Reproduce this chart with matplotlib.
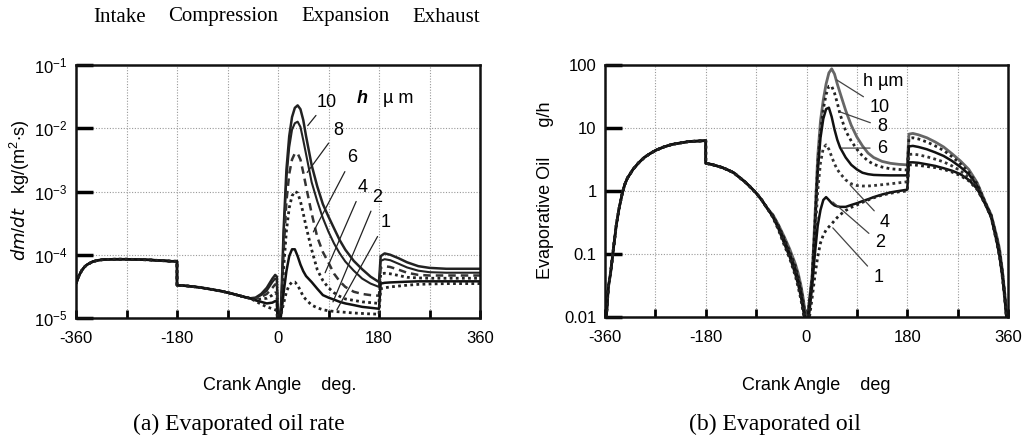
import matplotlib
matplotlib.use("Agg")
import matplotlib.pyplot as plt
from matplotlib import font_manager

# ---------------- data: (a) evaporated oil rate, kg/(m2 s) ----------------
h_values = [10, 8, 6, 4, 2, 1]

ang_a_intake = [-360, -355, -350, -345, -340, -330, -320, -310, -290, -270, -250, -230, -210, -190, -180]
rate_intake = [3.5e-5, 4.6e-5, 5.6e-5, 6.4e-5, 7.0e-5, 7.8e-5, 8.2e-5, 8.4e-5, 8.5e-5, 8.5e-5, 8.4e-5, 8.3e-5, 8.1e-5, 7.9e-5, 7.9e-5]

ang_a_comp = [-180, -160, -140, -120, -100, -80, -60, -50]
rate_comp = [3.3e-5, 3.2e-5, 3.05e-5, 2.85e-5, 2.65e-5, 2.4e-5, 2.15e-5, 2.05e-5]

ang_a_tdc = [-40, -30, -20, -10, -5, -2, 0]
rate_tdc_10 = [2.1e-5, 2.4e-5, 3.0e-5, 4.2e-5, 4.8e-5, 4.5e-5, 6e-6]
rate_tdc_8 = [2.05e-5, 2.3e-5, 2.7e-5, 3.7e-5, 4.2e-5, 4.0e-5, 6e-6]
rate_tdc_6 = [2.0e-5, 2.15e-5, 2.4e-5, 3.0e-5, 3.4e-5, 3.3e-5, 6e-6]
rate_tdc_4 = [1.95e-5, 2.0e-5, 2.05e-5, 2.3e-5, 2.5e-5, 2.4e-5, 6e-6]
rate_tdc_2 = [1.9e-5, 1.8e-5, 1.7e-5, 1.75e-5, 1.85e-5, 1.8e-5, 6e-6]
rate_tdc_1 = [1.85e-5, 1.65e-5, 1.5e-5, 1.4e-5, 1.35e-5, 1.3e-5, 6e-6]

ang_a_exp = [3, 6, 10, 15, 20, 25, 30, 35, 40, 45, 50, 60, 70, 80, 90, 100, 110, 120, 135, 150, 165, 180]
rate_exp_10 = [8e-6, 2e-5, 2.5e-4, 2.2e-3, 7.5e-3, 1.5e-2, 2.1e-2, 2.3e-2, 2.0e-2, 1.35e-2, 7.5e-3, 2.6e-3, 1.2e-3, 6.3e-4, 4.0e-4, 2.6e-4, 1.7e-4, 1.2e-4, 8.0e-5, 5.9e-5, 4.5e-5, 3.7e-5]
rate_exp_8 = [8e-6, 1.8e-5, 2.0e-4, 1.6e-3, 5.0e-3, 9.5e-3, 1.2e-2, 1.27e-2, 1.05e-2, 6.5e-3, 3.9e-3, 1.4e-3, 7.0e-4, 3.8e-4, 2.3e-4, 1.5e-4, 1.05e-4, 7.8e-5, 5.6e-5, 4.2e-5, 3.5e-5, 3.1e-5]
rate_exp_6 = [8e-6, 1.6e-5, 1.1e-4, 7.0e-4, 1.9e-3, 3.2e-3, 4.0e-3, 4.0e-3, 3.2e-3, 2.0e-3, 1.2e-3, 4.5e-4, 1.9e-4, 1.1e-4, 7.5e-5, 5.0e-5, 3.8e-5, 3.1e-5, 2.6e-5, 2.4e-5, 2.3e-5, 2.25e-5]
rate_exp_4 = [8e-6, 1.4e-5, 6.0e-5, 2.4e-4, 5.5e-4, 8.5e-4, 1.0e-3, 9.5e-4, 7.0e-4, 4.5e-4, 2.8e-4, 1.2e-4, 5.8e-5, 3.9e-5, 3.0e-5, 2.5e-5, 2.2e-5, 2.0e-5, 1.9e-5, 1.8e-5, 1.75e-5, 1.7e-5]
rate_exp_2 = [8e-6, 1.2e-5, 2.5e-5, 5.5e-5, 9.5e-5, 1.22e-4, 1.22e-4, 9.5e-5, 7.0e-5, 5.5e-5, 4.6e-5, 3.7e-5, 2.9e-5, 2.3e-5, 2.1e-5, 1.95e-5, 1.8e-5, 1.7e-5, 1.6e-5, 1.5e-5, 1.45e-5, 1.4e-5]
rate_exp_1 = [8e-6, 1.2e-5, 1.7e-5, 2.6e-5, 3.3e-5, 3.7e-5, 3.7e-5, 3.3e-5, 2.7e-5, 2.2e-5, 1.95e-5, 1.6e-5, 1.45e-5, 1.35e-5, 1.3e-5, 1.27e-5, 1.25e-5, 1.23e-5, 1.2e-5, 1.18e-5, 1.16e-5, 1.15e-5]

ang_a_exh = [183, 190, 200, 215, 230, 250, 270, 300, 330, 360]
rate_exh_10 = [9.5e-5, 1.05e-4, 1.0e-4, 8.8e-5, 7.6e-5, 6.6e-5, 6.2e-5, 6.0e-5, 6.0e-5, 6.0e-5]
rate_exh_8 = [8.0e-5, 8.5e-5, 8.2e-5, 7.2e-5, 6.3e-5, 5.6e-5, 5.3e-5, 5.2e-5, 5.2e-5, 5.2e-5]
rate_exh_6 = [6.2e-5, 6.6e-5, 6.4e-5, 5.8e-5, 5.2e-5, 4.8e-5, 4.7e-5, 4.7e-5, 4.7e-5, 4.7e-5]
rate_exh_4 = [5.0e-5, 5.1e-5, 5.0e-5, 4.7e-5, 4.4e-5, 4.3e-5, 4.25e-5, 4.25e-5, 4.25e-5, 4.25e-5]
rate_exh_2 = [3.5e-5, 3.6e-5, 3.65e-5, 3.7e-5, 3.75e-5, 3.8e-5, 3.8e-5, 3.8e-5, 3.8e-5, 3.8e-5]
rate_exh_1 = [2.9e-5, 3.0e-5, 3.1e-5, 3.2e-5, 3.3e-5, 3.4e-5, 3.45e-5, 3.5e-5, 3.5e-5, 3.5e-5]

# ---------------- data: (b) evaporated oil, g/h ----------------
ang_b_intake = [-360, -357, -354, -350, -345, -340, -335, -330, -325, -320, -310, -300, -290, -280, -270, -255, -240, -225, -210, -195, -180]
oil_intake = [0.005, 0.012, 0.03, 0.05, 0.12, 0.28, 0.52, 0.85, 1.25, 1.6, 2.2, 2.8, 3.4, 3.9, 4.4, 5.0, 5.5, 5.8, 6.1, 6.2, 6.3]

ang_b_comp = [-180, -170, -160, -150, -140, -130, -120, -110, -100, -90, -80, -70]
oil_comp = [2.75, 2.65, 2.5, 2.35, 2.15, 1.95, 1.65, 1.4, 1.15, 0.93, 0.72, 0.53]

ang_b_tdc = [-60, -50, -40, -30, -20, -15, -10, -6, -3, 0]
oil_tdc_10 = [0.42, 0.29, 0.19, 0.12, 0.07, 0.05, 0.032, 0.02, 0.013, 0.006]
oil_tdc_8 = [0.41, 0.28, 0.18, 0.11, 0.065, 0.045, 0.029, 0.018, 0.012, 0.006]
oil_tdc_6 = [0.40, 0.27, 0.17, 0.10, 0.058, 0.04, 0.026, 0.016, 0.011, 0.006]
oil_tdc_4 = [0.39, 0.26, 0.155, 0.095, 0.052, 0.036, 0.023, 0.014, 0.01, 0.005]
oil_tdc_2 = [0.385, 0.25, 0.148, 0.09, 0.048, 0.033, 0.021, 0.013, 0.009, 0.005]
oil_tdc_1 = [0.38, 0.24, 0.14, 0.085, 0.045, 0.03, 0.019, 0.012, 0.008, 0.005]

ang_b_exp = [3, 6, 10, 15, 20, 25, 30, 35, 40, 45, 50, 55, 60, 70, 80, 90, 100, 110, 120, 135, 150, 165, 180]
oil_exp_10 = [0.012, 0.022, 0.045, 0.38, 3.5, 13, 28, 50, 75, 87, 72, 50, 36, 19, 11, 7.2, 5.2, 4.0, 3.4, 2.95, 2.75, 2.65, 2.6]
oil_exp_8 = [0.011, 0.02, 0.04, 0.3, 2.6, 9, 20, 34, 46, 46, 36, 25, 16.5, 9, 6.2, 4.6, 3.6, 3.0, 2.65, 2.4, 2.25, 2.2, 2.15]
oil_exp_6 = [0.011, 0.02, 0.038, 0.25, 2.0, 7, 14, 20, 21, 15, 9.5, 6.5, 4.9, 3.4, 2.6, 2.2, 1.95, 1.85, 1.8, 1.78, 1.77, 1.77, 1.77]
oil_exp_4 = [0.009, 0.016, 0.032, 0.17, 1.0, 2.8, 4.8, 5.4, 4.6, 3.5, 2.7, 2.2, 1.9, 1.5, 1.3, 1.22, 1.2, 1.2, 1.22, 1.26, 1.3, 1.35, 1.4]
oil_exp_2 = [0.008, 0.014, 0.03, 0.1, 0.28, 0.5, 0.72, 0.8, 0.72, 0.64, 0.59, 0.57, 0.56, 0.56, 0.6, 0.64, 0.69, 0.74, 0.8, 0.88, 0.95, 1.0, 1.05]
oil_exp_1 = [0.007, 0.011, 0.02, 0.045, 0.09, 0.15, 0.2, 0.24, 0.27, 0.3, 0.34, 0.38, 0.42, 0.49, 0.55, 0.6, 0.66, 0.72, 0.78, 0.86, 0.92, 0.97, 1.0]

ang_b_exh = [183, 190, 200, 215, 230, 245, 260, 275, 290, 305, 320, 330, 340, 345, 350, 354, 357, 360]
oil_exh_10 = [8.0, 8.2, 7.8, 7.0, 6.0, 5.0, 3.9, 3.0, 2.2, 1.35, 0.65, 0.42, 0.19, 0.12, 0.055, 0.025, 0.012, 0.005]
oil_exh_8 = [6.8, 7.0, 6.7, 6.0, 5.2, 4.4, 3.5, 2.7, 2.0, 1.3, 0.64, 0.41, 0.18, 0.11, 0.052, 0.024, 0.012, 0.005]
oil_exh_6 = [5.1, 5.2, 5.0, 4.6, 4.1, 3.6, 3.0, 2.4, 1.85, 1.2, 0.62, 0.40, 0.17, 0.10, 0.05, 0.023, 0.011, 0.005]
oil_exh_4 = [3.8, 3.85, 3.75, 3.5, 3.2, 2.9, 2.5, 2.1, 1.65, 1.13, 0.61, 0.39, 0.16, 0.095, 0.046, 0.021, 0.011, 0.005]
oil_exh_2 = [2.85, 2.85, 2.8, 2.65, 2.5, 2.3, 2.1, 1.85, 1.5, 1.08, 0.6, 0.38, 0.155, 0.09, 0.043, 0.02, 0.01, 0.005]
oil_exh_1 = [2.6, 2.6, 2.55, 2.45, 2.35, 2.2, 2.0, 1.75, 1.45, 1.05, 0.6, 0.38, 0.15, 0.09, 0.042, 0.02, 0.01, 0.005]

x_ticks = [-360, -270, -180, -90, 0, 90, 180, 270, 360]
x_ticklabels = ["-360", "", "-180", "", "0", "", "180", "", "360"]
a_yticks = [1e-5, 1e-4, 1e-3, 1e-2, 1e-1]
a_yticklabels = ["10$^{-5}$", "10$^{-4}$", "10$^{-3}$", "10$^{-2}$", "10$^{-1}$"]
b_yticks = [0.01, 0.1, 1, 10, 100]
b_yticklabels = ["0.01", "0.1", "1", "10", "100"]
phase_names = ["Intake", "Compression", "Expansion", "Exhaust"]

# ---------------- styling ----------------
names = {f.name for f in font_manager.fontManager.ttflist}
sans = "Liberation Sans Narrow" if "Liberation Sans Narrow" in names else "Liberation Sans"
plt.rcParams["font.family"] = [sans, "DejaVu Sans"]
plt.rcParams["mathtext.default"] = "regular"
plt.rcParams["mathtext.fontset"] = "custom"
plt.rcParams["mathtext.rm"] = sans

a_styles = {10: dict(ls="-", lw=1.8, color="#222222"),
            8: dict(ls="-", lw=1.5, color="#222222"),
            6: dict(ls=(0, (3, 2)), lw=1.8, color="#333333"),
            4: dict(ls=(0, (1, 1.2)), lw=2.0, color="#222222"),
            2: dict(ls="-", lw=1.8, color="#111111"),
            1: dict(ls=(0, (1, 1.2)), lw=2.0, color="#222222")}
b_styles = {10: dict(ls="-", lw=2.0, color="#666666"),
            8: dict(ls=(0, (1, 1.2)), lw=2.0, color="#222222"),
            6: dict(ls="-", lw=1.8, color="#111111"),
            4: dict(ls=(0, (1, 1.2)), lw=2.0, color="#333333"),
            2: dict(ls="-", lw=1.8, color="#111111"),
            1: dict(ls=(0, (1, 1.2)), lw=2.0, color="#222222")}

a_tdc = {10: rate_tdc_10, 8: rate_tdc_8, 6: rate_tdc_6, 4: rate_tdc_4, 2: rate_tdc_2, 1: rate_tdc_1}
a_exp = {10: rate_exp_10, 8: rate_exp_8, 6: rate_exp_6, 4: rate_exp_4, 2: rate_exp_2, 1: rate_exp_1}
a_exh = {10: rate_exh_10, 8: rate_exh_8, 6: rate_exh_6, 4: rate_exh_4, 2: rate_exh_2, 1: rate_exh_1}
b_tdc = {10: oil_tdc_10, 8: oil_tdc_8, 6: oil_tdc_6, 4: oil_tdc_4, 2: oil_tdc_2, 1: oil_tdc_1}
b_exp = {10: oil_exp_10, 8: oil_exp_8, 6: oil_exp_6, 4: oil_exp_4, 2: oil_exp_2, 1: oil_exp_1}
b_exh = {10: oil_exh_10, 8: oil_exh_8, 6: oil_exh_6, 4: oil_exh_4, 2: oil_exh_2, 1: oil_exh_1}

fig = plt.figure(figsize=(10.31, 4.40), dpi=100)
ax1 = fig.add_axes([76 / 1031, 1 - 318 / 440, 404 / 1031, 253 / 440])
ax2 = fig.add_axes([605 / 1031, 1 - 317 / 440, 403 / 1031, 252 / 440])


def style_axis(ax, yticks, yticklabels, ylim):
    ax.set_yscale("log")
    ax.set_xlim(-360, 360)
    ax.set_ylim(*ylim)
    ax.set_xticks(x_ticks)
    ax.set_xticklabels(x_ticklabels, fontsize=12)
    ax.set_yticks(yticks)
    ax.set_yticklabels(yticklabels, fontsize=12)
    ax.minorticks_off()
    ax.tick_params(axis="x", direction="in", length=6, width=2, pad=9)
    ax.tick_params(axis="y", direction="in", length=12, width=2.5, pad=6)
    ax.grid(True, ls=(0, (1, 1.5)), color="#999999", lw=0.8)
    for s in ax.spines.values():
        s.set_linewidth(1.8)
        s.set_color("#111111")


for h in h_values:
    xs = ang_a_intake + ang_a_comp + ang_a_tdc + ang_a_exp + ang_a_exh
    ys = rate_intake + rate_comp + a_tdc[h] + a_exp[h] + a_exh[h]
    ax1.plot(xs, ys, **a_styles[h], solid_joinstyle="round")
    xs = ang_b_intake + ang_b_comp + ang_b_tdc + ang_b_exp + ang_b_exh
    ys = oil_intake + oil_comp + b_tdc[h] + b_exp[h] + b_exh[h]
    ax2.plot(xs, ys, **b_styles[h], solid_joinstyle="round")

style_axis(ax1, a_yticks, a_yticklabels, (1e-5, 1e-1))
style_axis(ax2, b_yticks, b_yticklabels, (0.01, 100))

# curve labels (a)
a_labels = [("10", (87, 2.6e-2), (53, 1.1e-2)),
            ("8", (107, 9.3e-3), (52, 2.0e-3)),
            ("6", (132, 3.4e-3), (63, 2.3e-4)),
            ("4", (150, 1.15e-3), (84, 5.2e-5)),
            ("2", (176, 8.1e-4), (98, 1.8e-5)),
            ("1", (191, 3.2e-4), (105, 1.35e-5))]
for txt, xyt, xy in a_labels:
    ax1.annotate(txt, xy=xy, xytext=xyt, fontsize=13, ha="center", va="center",
                 arrowprops=dict(arrowstyle="-", color="#222222", lw=0.9, shrinkA=2, shrinkB=0))
ax1.text(150, 3.0e-2, "h", fontsize=13, fontstyle="italic", fontweight="bold", ha="center", va="center")
ax1.text(215, 3.0e-2, "\u00b5 m", fontsize=13, ha="center", va="center")

b_labels = [("10", (131, 21.5), (54, 58)),
            ("8", (135, 10.4), (60, 18)),
            ("6", (135, 4.8), (63, 4.8)),
            ("4", (140, 0.32), (78, 1.24)),
            ("2", (131, 0.15), (47, 0.67)),
            ("1", (128, 0.042), (47, 0.26))]
for txt, xyt, xy in b_labels:
    ax2.annotate(txt, xy=xy, xytext=xyt, fontsize=13, ha="center", va="center",
                 arrowprops=dict(arrowstyle="-", color="#444444", lw=0.9, shrinkA=3, shrinkB=0))
ax2.text(137, 54, "h \u00b5m", fontsize=13, ha="center", va="center")

# axis labels
fig.text(20 / 1031, 1 - 190 / 440, "$\\it{dm/dt}$   kg/(m$^{2}$$\\cdot$s)", rotation=90,
         fontsize=13, ha="center", va="center")
fig.text(546 / 1031, 1 - 190 / 440, "Evaporative Oil      g/h", rotation=90,
         fontsize=13, ha="center", va="center")
fig.text(280 / 1031, 1 - 385 / 440, "Crank Angle    deg.", fontsize=13, ha="center", va="center")
fig.text(816 / 1031, 1 - 385 / 440, "Crank Angle    deg", fontsize=13, ha="center", va="center")

serif = ["Liberation Serif", "DejaVu Serif"]
fig.text(239 / 1031, 1 - 424 / 440, "(a) Evaporated oil rate", fontsize=17, family=serif,
         ha="center", va="center")
fig.text(775 / 1031, 1 - 424 / 440, "(b) Evaporated oil", fontsize=17, family=serif,
         ha="center", va="center")

for name, xc in zip(phase_names, [120, 223, 346, 446]):
    fig.text(xc / 1031, 1 - 17 / 440, name, fontsize=15, family=serif, ha="center", va="center")

fig.savefig("out.png", dpi=100)
